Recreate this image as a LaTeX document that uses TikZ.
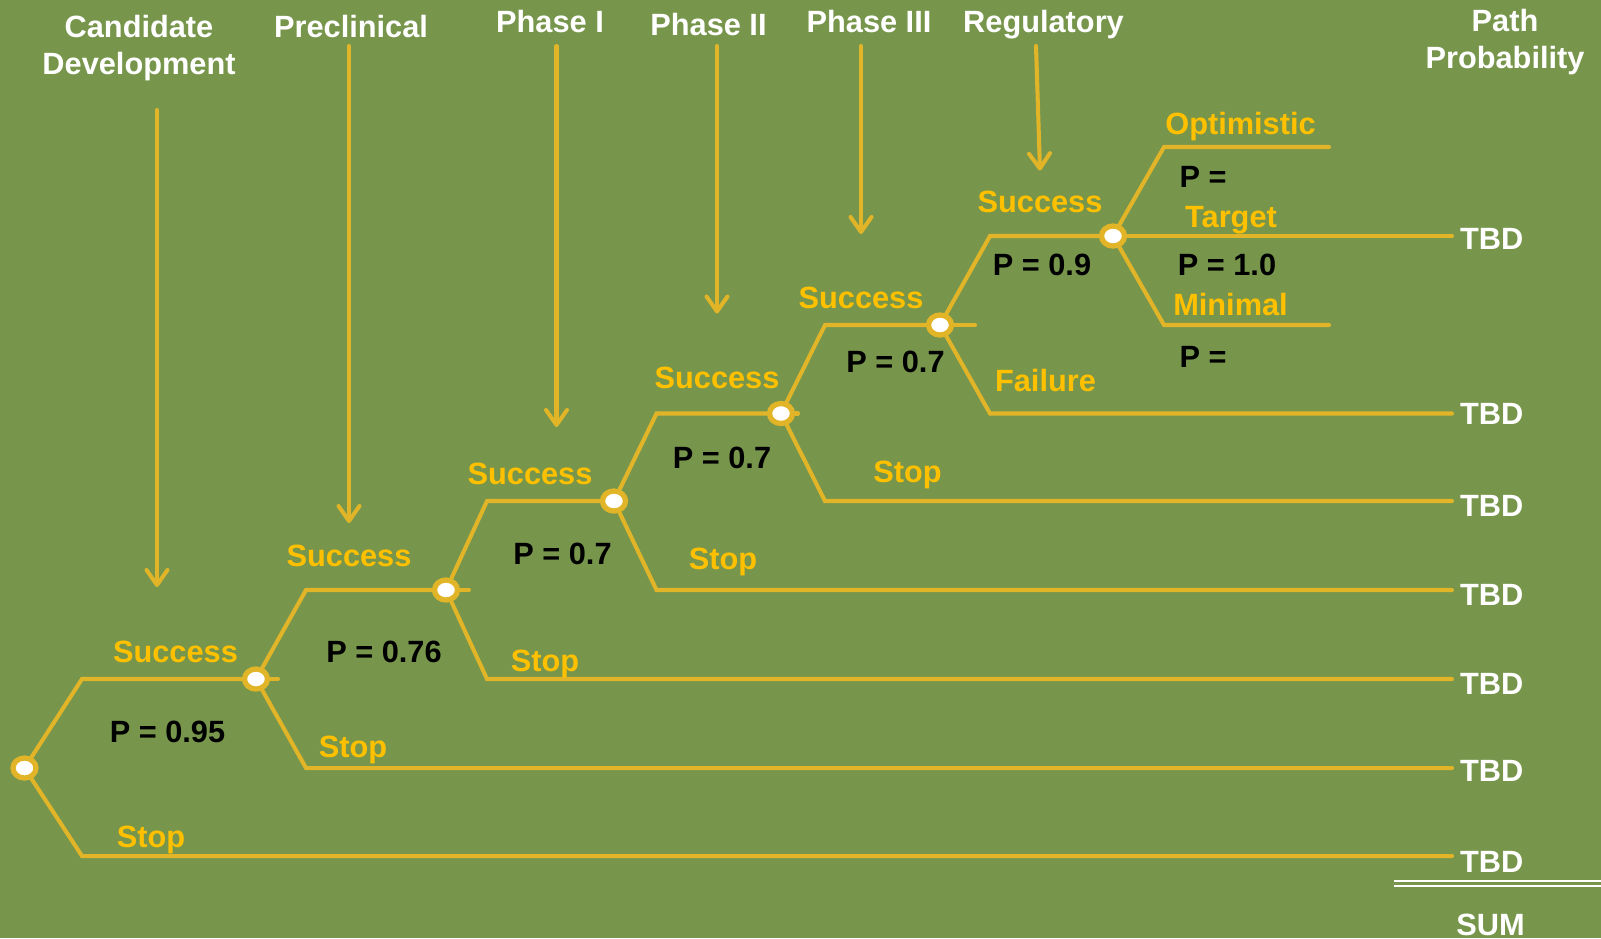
\documentclass[tikz,border=0pt]{standalone}
\usepackage{fontspec}
\setmainfont{Liberation Sans}
\usetikzlibrary{arrows.meta}
\usetikzlibrary{shapes.geometric}
\definecolor{bggreen}{RGB}{119,150,76}
\definecolor{branch}{RGB}{226,181,40}
\definecolor{lbl}{RGB}{255,192,0}

\begin{document}
\begin{tikzpicture}[x=0.02cm, y=-0.02cm, line width = 2.3pt, line cap=round,
	every node/.style={font=\fontsize{17.5}{21.5}\selectfont\bfseries, inner sep=0pt},
	caps/.style={text height=12.6pt, text depth=0pt},
	head/.style={white, align=center},
	lab/.style={lbl, caps},
	prob/.style={black, caps},
	tbd/.style={white, caps, anchor=west},
	phase/.style={branch, -{Straight Barb[length=0.3cm,width=0.42cm,round]}},
	chance/.style={ellipse, draw=branch, fill=white, line width=3pt, minimum width=0.46cm, minimum height=0.40cm}]
			
			\fill[bggreen] (0,0) rectangle (1601,938);
			\useasboundingbox (0,0) rectangle (1601,938);
			
			% stage headers
			\node[head] (hCand) at (139,48) {Candidate\\Development};
			\node[head, caps] (hPre) at (351,26.5) {Preclinical};
			\node[head, caps] (hPh1) at (550,21.5) {Phase I};
			\node[head, caps] (hPh2) at (708.5,24.5) {Phase II};
			\node[head, caps] (hPh3) at (869,21.5) {Phase III};
			\node[head, caps] (hReg) at (1043.5,21.5) {Regulatory};
			\node[head] (hPath) at (1505,42) {Path\\Probability};
			
			% arrows down from the headers
			\coordinate (tCand) at (157,110);   \coordinate (aCand) at (157,587);
			\coordinate (tPre) at (349,46);     \coordinate (aPre) at (349,523);
			\coordinate (tPh1) at (556.5,46);   \coordinate (aPh1) at (556.5,427);
			\coordinate (tPh2) at (717,46);     \coordinate (aPh2) at (717,313.5);
			\coordinate (tPh3) at (861,46);     \coordinate (aPh3) at (861,234);
			\coordinate (tReg) at (1036,46);    \coordinate (aReg) at (1040,170.5);
			\draw[phase] (tCand) -- (aCand);
			\draw[phase] (tPre) -- (aPre);
			\draw[phase] (tPh1) -- (aPh1);
			\draw[phase] (tPh2) -- (aPh2);
			\draw[phase] (tPh3) -- (aPh3);
			\draw[phase] (tReg) -- (aReg);
			
			% chance nodes
			\node[chance] (n0) at (24.5,768) {};
			\node[chance] (n1) at (256,679) {};
			\node[chance] (n2) at (446,590) {};
			\node[chance] (n3) at (614,501) {};
			\node[chance] (n4) at (781,413.5) {};
			\node[chance] (n5) at (940,325) {};
			\node[chance] (n6) at (1113,236) {};
			
			% bends and ends
			\coordinate (u0) at (82,679);      \coordinate (d0) at (82,856);      \coordinate (e0) at (1452,856);
			\coordinate (u1) at (306,590);     \coordinate (d1) at (306,768);     \coordinate (e1) at (1452,768);
			\coordinate (u2) at (487,501);     \coordinate (d2) at (487,679);     \coordinate (e2) at (1452,679);
			\coordinate (u3) at (656.5,413.5); \coordinate (d3) at (656.5,590);   \coordinate (e3) at (1452,590);
			\coordinate (u4) at (825,325);     \coordinate (d4) at (825,501);     \coordinate (e4) at (1452,501);
			\coordinate (u5) at (990,236);     \coordinate (d5) at (990,413.5);   \coordinate (e5) at (1452,413.5);
			\coordinate (u6) at (1164,147);    \coordinate (d6) at (1164,325);
			\coordinate (eOpt) at (1329,147);  \coordinate (eMin) at (1329,325); \coordinate (e6) at (1452,236);
			\coordinate (s1) at (278,679);     \coordinate (s2) at (469,590);
			\coordinate (s4) at (798,413.5);   \coordinate (s5) at (975,325);
			
			\draw[branch] (n0) -- (u0) -- (n1);
			\draw[branch] (n0) -- (d0) -- (e0);
			\draw[branch] (n1) -- (u1) -- (n2);
			\draw[branch] (n1) -- (d1) -- (e1);
			\draw[branch] (n2) -- (u2) -- (n3);
			\draw[branch] (n2) -- (d2) -- (e2);
			\draw[branch] (n3) -- (u3) -- (n4);
			\draw[branch] (n3) -- (d3) -- (e3);
			\draw[branch] (n4) -- (u4) -- (n5);
			\draw[branch] (n4) -- (d4) -- (e4);
			\draw[branch] (n5) -- (u5) -- (n6);
			\draw[branch] (n5) -- (d5) -- (e5);
			\draw[branch] (n6) -- (u6) -- (eOpt);
			\draw[branch] (n6) -- (e6);
			\draw[branch] (n6) -- (d6) -- (eMin);
			\draw[branch] (n1) -- (s1);
			\draw[branch] (n2) -- (s2);
			\draw[branch] (n4) -- (s4);
			\draw[branch] (n5) -- (s5);
			
			% outcome labels
			\node[lab] (succ0) at (175.5,651) {Success};
			\node[lab] (stop0) at (151,836) {Stop};
			\node[lab] (succ1) at (349,555) {Success};
			\node[lab] (stop1) at (353,746) {Stop};
			\node[lab] (succ2) at (530,473) {Success};
			\node[lab] (stop2) at (545,660.5) {Stop};
			\node[lab] (succ3) at (717,377) {Success};
			\node[lab] (stop3) at (723,558.5) {Stop};
			\node[lab] (succ4) at (861,297) {Success};
			\node[lab] (stop4) at (907.5,471.5) {Stop};
			\node[lab] (succ5) at (1040,201) {Success};
			\node[lab] (fail5) at (1045.5,380) {Failure};
			\node[lab] (opt) at (1240.5,123.5) {Optimistic};
			\node[lab] (tgt) at (1231,216.5) {Target};
			\node[lab] (mini) at (1230.5,304) {Minimal};
			
			% probabilities
			\node[prob] (p0) at (167.5,731) {P = 0.95};
			\node[prob] (p1) at (384,651) {P = 0.76};
			\node[prob] (p2) at (562.5,553) {P = 0.7};
			\node[prob] (p3) at (722,457) {P = 0.7};
			\node[prob] (p4) at (895.5,361.5) {P = 0.7};
			\node[prob] (p5) at (1042,264.5) {P = 0.9};
			\node[prob] (pOpt) at (1203,176.5) {P =};
			\node[prob] (pTgt) at (1227,264.5) {P = 1.0};
			\node[prob] (pMin) at (1203,356) {P =};
			
			% path probabilities
			\node[tbd] (t6) at (1458,238) {TBD};
			\node[tbd] (t5) at (1458,413.5) {TBD};
			\node[tbd] (t4) at (1458,505) {TBD};
			\node[tbd] (t3) at (1458,594) {TBD};
			\node[tbd] (t2) at (1458,683) {TBD};
			\node[tbd] (t1) at (1458,770) {TBD};
			\node[tbd] (t0) at (1458,861) {TBD};
			
			\coordinate (sumA) at (1394,883);
			\coordinate (sumB) at (1601,883);
			\draw[white, line width=0.04cm, double=bggreen, double distance=0.06cm, line cap=butt] (sumA) -- (sumB);
			\node[white, caps] (sum) at (1490.5,924) {SUM};
			
	\end{tikzpicture}
\end{document}
